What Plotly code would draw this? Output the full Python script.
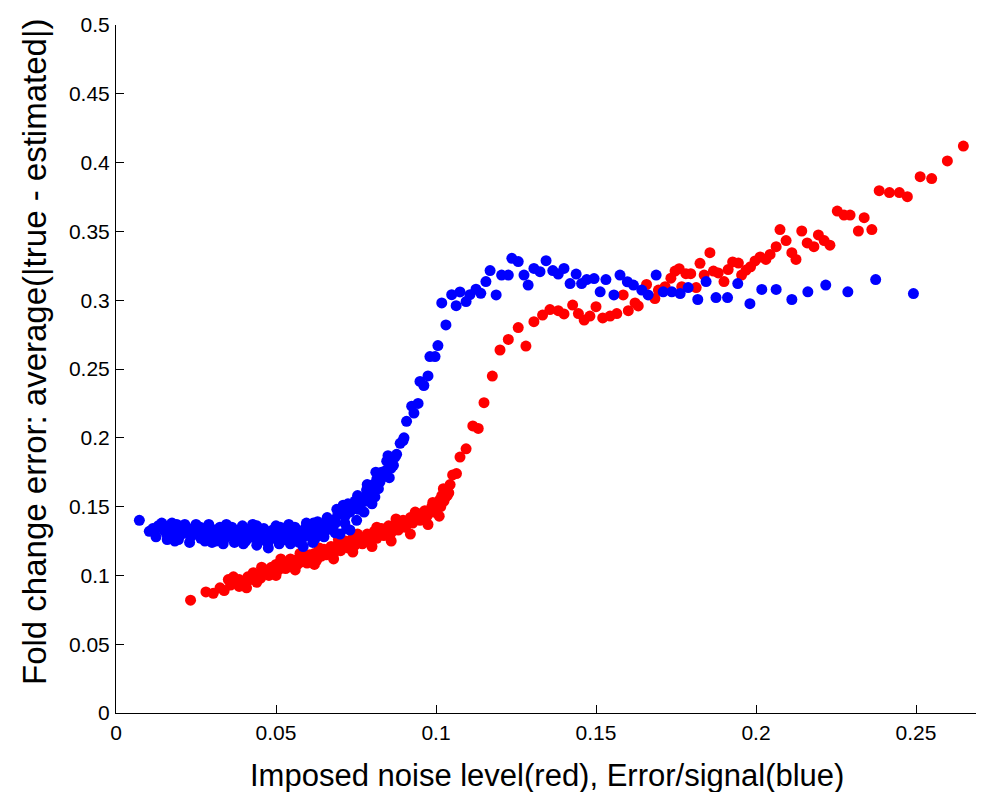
import plotly.graph_objects as go

# ---- data ----
blue_x = [
    0.0073, 0.0104, 0.0115, 0.0122, 0.0132, 0.0143, 0.0150, 0.0158, 0.0165, 0.0172,
    0.0180, 0.0184, 0.0190, 0.0198, 0.0205, 0.0212, 0.0219, 0.0226, 0.0233, 0.0240,
    0.0248, 0.0255, 0.0263, 0.0270, 0.0278, 0.0285, 0.0292, 0.0300, 0.0309, 0.0312,
    0.0318, 0.0325, 0.0332, 0.0340, 0.0347, 0.0355, 0.0362, 0.0370, 0.0378, 0.0385,
    0.0392, 0.0398, 0.0405, 0.0412, 0.0420, 0.0427, 0.0434, 0.0441, 0.0448, 0.0455,
    0.0462, 0.0469, 0.0476, 0.0483, 0.0490, 0.0497, 0.0505, 0.0513, 0.0520, 0.0527,
    0.0534, 0.0541, 0.0548, 0.0555, 0.0559, 0.0566, 0.0572, 0.0578, 0.0585, 0.0590,
    0.0597, 0.0604, 0.0610, 0.0617, 0.0623, 0.0630, 0.0637, 0.0644, 0.0651, 0.0658,
    0.0665, 0.0672, 0.0679, 0.0686, 0.0693, 0.0700, 0.0700, 0.0705, 0.0710, 0.0716,
    0.0721, 0.0731, 0.0731, 0.0737, 0.0747, 0.0752, 0.0758, 0.0763, 0.0770, 0.0775,
    0.0783, 0.0783, 0.0790, 0.0794, 0.0800, 0.0804, 0.0809, 0.0815, 0.0820, 0.0825,
    0.0830, 0.0838, 0.0846, 0.0854, 0.0860, 0.0867, 0.0872, 0.0877, 0.0888, 0.0897,
    0.0900, 0.0908, 0.0924, 0.0931, 0.0944, 0.0950, 0.0962, 0.0975, 0.0981, 0.0997,
    0.1006, 0.1031, 0.1018, 0.1049, 0.1063, 0.1075, 0.1094, 0.1106, 0.1125, 0.1140,
    0.1156, 0.1169, 0.1188, 0.1205, 0.1226, 0.1237, 0.1257, 0.1275, 0.1288, 0.1306,
    0.1325, 0.1344, 0.1365, 0.1382, 0.1400, 0.1419, 0.1438, 0.1455, 0.1471, 0.1494,
    0.1513, 0.1531, 0.1556, 0.1575, 0.1598, 0.1617, 0.1643, 0.1663, 0.1688, 0.1710,
    0.1737, 0.1763, 0.1788, 0.1818, 0.1844, 0.1875, 0.1911, 0.1943, 0.1981, 0.2018,
    0.2063, 0.2112, 0.2162, 0.2218, 0.2287, 0.2374, 0.2492,
    0.0125, 0.0160, 0.0195, 0.0230, 0.0265, 0.0300, 0.0335, 0.0370, 0.0405, 0.0440,
    0.0475, 0.0510, 0.0545, 0.0580, 0.0615, 0.0650, 0.0685, 0.0715,
    0.0175, 0.0215, 0.0250, 0.0290, 0.0345, 0.0395, 0.0440, 0.0500, 0.0540, 0.0595,
    0.0630, 0.0660, 0.0690, 0.0725, 0.0755, 0.0785, 0.0812, 0.0842, 0.0850,
]
blue_y = [
    0.140, 0.132, 0.134, 0.133, 0.136, 0.138, 0.133, 0.130, 0.136, 0.132,
    0.128, 0.125, 0.137, 0.133, 0.130, 0.135, 0.135, 0.131, 0.128, 0.134,
    0.130, 0.133, 0.135, 0.131, 0.125, 0.129, 0.134, 0.131, 0.133, 0.125,
    0.128, 0.135, 0.131, 0.127, 0.133, 0.129, 0.135, 0.131, 0.126, 0.133,
    0.129, 0.123, 0.132, 0.127, 0.134, 0.137, 0.130, 0.126, 0.132, 0.128,
    0.134, 0.125, 0.120, 0.130, 0.133, 0.127, 0.131, 0.135, 0.129, 0.126,
    0.132, 0.128, 0.134, 0.130, 0.135, 0.127, 0.124, 0.131, 0.121, 0.134,
    0.129, 0.136, 0.132, 0.138, 0.127, 0.134, 0.130, 0.137, 0.132, 0.133,
    0.140, 0.136, 0.140, 0.138, 0.144, 0.145, 0.130, 0.148, 0.151, 0.143,
    0.134, 0.146, 0.133, 0.150, 0.154, 0.140, 0.148, 0.150, 0.156, 0.146,
    0.154, 0.162, 0.158, 0.162, 0.152, 0.166, 0.157, 0.170, 0.163, 0.168,
    0.175, 0.172, 0.183, 0.171, 0.178, 0.180, 0.186, 0.188, 0.196, 0.198,
    0.200, 0.212, 0.223, 0.218, 0.225, 0.241, 0.238, 0.245, 0.259, 0.259,
    0.267, 0.282, 0.298, 0.304, 0.296, 0.306, 0.299, 0.304, 0.308, 0.305,
    0.3135, 0.3215, 0.3038, 0.3183, 0.3183, 0.3304, 0.3281, 0.3183, 0.3110, 0.3231,
    0.3207, 0.3287, 0.3215, 0.3190, 0.3231, 0.3121, 0.3190, 0.3121, 0.3150, 0.3157,
    0.3061, 0.3150, 0.3038, 0.3183, 0.3134, 0.3110, 0.3074, 0.3038, 0.3183, 0.3061,
    0.3061, 0.3048, 0.3092, 0.3005, 0.3135, 0.3019, 0.3019, 0.3121, 0.2975, 0.3078,
    0.3078, 0.3005, 0.3061, 0.3110, 0.3061, 0.3150, 0.3048,
    0.128, 0.126, 0.126, 0.124, 0.127, 0.124, 0.123, 0.124, 0.125, 0.122,
    0.124, 0.123, 0.123, 0.126, 0.124, 0.128, 0.131, 0.138,
    0.138, 0.137, 0.137, 0.137, 0.137, 0.136, 0.136, 0.136, 0.137, 0.138,
    0.139, 0.142, 0.148, 0.152, 0.158, 0.166, 0.175, 0.176, 0.187,
]

red_x = [
    0.0233, 0.0281, 0.0304, 0.0325, 0.0338, 0.0351, 0.0358, 0.0367, 0.0375, 0.0385,
    0.0395, 0.0408, 0.0412, 0.0420, 0.0429, 0.0436, 0.0444, 0.0452, 0.0460, 0.0471,
    0.0478, 0.0486, 0.0493, 0.0500, 0.0508, 0.0515, 0.0522, 0.0530, 0.0537, 0.0545,
    0.0552, 0.0560, 0.0567, 0.0575, 0.0582, 0.0590, 0.0597, 0.0605, 0.0612, 0.0620,
    0.0627, 0.0635, 0.0642, 0.0650, 0.0657, 0.0665, 0.0672, 0.0680, 0.0687, 0.0695,
    0.0702, 0.0710, 0.0717, 0.0725, 0.0732, 0.0740, 0.0747, 0.0755, 0.0762, 0.0770,
    0.0777, 0.0785, 0.0792, 0.0800, 0.0807, 0.0815, 0.0822, 0.0830, 0.0837, 0.0845,
    0.0852, 0.0860, 0.0867, 0.0875, 0.0882, 0.0890, 0.0897, 0.0905, 0.0912, 0.0920,
    0.0927, 0.0935, 0.0942, 0.0950, 0.0957, 0.0965, 0.0972, 0.0980, 0.0987, 0.0993,
    0.1000, 0.1006, 0.1012, 0.1015, 0.1018, 0.1023, 0.1025, 0.1030, 0.1035, 0.1044,
    0.1052, 0.1064, 0.1075, 0.1094, 0.1115, 0.1132, 0.1150, 0.1176, 0.1200, 0.1226,
    0.1257, 0.1281, 0.1306, 0.1333, 0.1356, 0.1382, 0.1400, 0.1427, 0.1445, 0.1463,
    0.1481, 0.1500, 0.1521, 0.1544, 0.1565, 0.1585, 0.1601, 0.1622, 0.1632, 0.1658,
    0.1684, 0.1695, 0.1716, 0.1734, 0.1747, 0.1760, 0.1768, 0.1781, 0.1796, 0.1813,
    0.1825, 0.1838, 0.1856, 0.1867, 0.1882, 0.1900, 0.1913, 0.1927, 0.1945, 0.1955,
    0.1969, 0.1983, 0.1997, 0.2013, 0.2031, 0.2044, 0.2063, 0.2075, 0.2094, 0.2112,
    0.2125, 0.2143, 0.2160, 0.2181, 0.2195, 0.2213, 0.2231, 0.2254, 0.2275, 0.2294,
    0.2320, 0.2338, 0.2362, 0.2385, 0.2417, 0.2448, 0.2473, 0.2513, 0.2549, 0.2598,
    0.2648, 0.2708,
    0.0385, 0.0440, 0.0500, 0.0560, 0.0620, 0.0680, 0.0740, 0.0800, 0.0860, 0.0920,
    0.0975, 0.1010,
    0.0455, 0.0515, 0.0575, 0.0635, 0.0695, 0.0755, 0.0815, 0.0875, 0.0935, 0.0990,
    0.1040,
]
red_y = [
    0.082, 0.088, 0.087, 0.091, 0.089, 0.097, 0.093, 0.099, 0.095, 0.097,
    0.094, 0.091, 0.099, 0.097, 0.102, 0.099, 0.101, 0.098, 0.103, 0.104,
    0.100, 0.106, 0.103, 0.108, 0.104, 0.107, 0.110, 0.105, 0.109, 0.112,
    0.107, 0.111, 0.108, 0.113, 0.110, 0.114, 0.109, 0.115, 0.112, 0.116,
    0.111, 0.117, 0.114, 0.119, 0.115, 0.118, 0.121, 0.116, 0.120, 0.123,
    0.118, 0.122, 0.125, 0.120, 0.124, 0.127, 0.122, 0.126, 0.128, 0.123,
    0.127, 0.130, 0.125, 0.129, 0.132, 0.127, 0.131, 0.134, 0.129, 0.133,
    0.136, 0.131, 0.135, 0.138, 0.133, 0.137, 0.140, 0.135, 0.139, 0.142,
    0.138, 0.141, 0.145, 0.140, 0.144, 0.147, 0.143, 0.147, 0.150, 0.146,
    0.152, 0.149, 0.155, 0.150, 0.158, 0.163, 0.154, 0.157, 0.158, 0.166,
    0.173, 0.174, 0.186, 0.192, 0.2086, 0.2068, 0.2255, 0.2449, 0.2638, 0.2715,
    0.2801, 0.2667, 0.2844, 0.2892, 0.2932, 0.2924, 0.2900, 0.2965, 0.2903, 0.2856,
    0.2885, 0.2953, 0.2871, 0.2885, 0.2903, 0.3038, 0.2924, 0.2980, 0.2958, 0.3114,
    0.3012, 0.3074, 0.3098, 0.3160, 0.3212, 0.3229, 0.3098, 0.3193, 0.3193, 0.3092,
    0.3268, 0.3183, 0.3345, 0.3212, 0.3198, 0.3135, 0.3223, 0.3278, 0.3270, 0.3183,
    0.3219, 0.3243, 0.3285, 0.3314, 0.3296, 0.3333, 0.3389, 0.3513, 0.3433, 0.3345,
    0.3296, 0.3503, 0.3416, 0.3389, 0.3474, 0.3433, 0.3400, 0.3648, 0.3619, 0.3619,
    0.3503, 0.3600, 0.3513, 0.3796, 0.3782, 0.3782, 0.3752, 0.3898, 0.3884, 0.4012,
    0.4120, 0.4120,
    0.092, 0.095, 0.100, 0.104, 0.108, 0.112, 0.117, 0.121, 0.125, 0.130,
    0.137, 0.143,
    0.106, 0.112, 0.116, 0.120, 0.126, 0.130, 0.135, 0.141, 0.146, 0.153,
    0.160,
]

x_ticks = [0, 0.05, 0.1, 0.15, 0.2, 0.25]
x_tick_labels = ["0", "0.05", "0.1", "0.15", "0.2", "0.25"]
y_ticks = [0, 0.05, 0.1, 0.15, 0.2, 0.25, 0.3, 0.35, 0.4, 0.45, 0.5]
y_tick_labels = ["0", "0.05", "0.1", "0.15", "0.2", "0.25", "0.3", "0.35", "0.4", "0.45", "0.5"]

x_title = "Imposed noise level(red), Error/signal(blue)"
y_title = "Fold change error: average(|true - estimated|)"

FONT = "Liberation Sans, Arial, Helvetica, sans-serif"

# The page body has an 8px margin, so the figure is placed 8px right/down.
W, H = 976, 784
ML, MT, MB, MR = 108, 17, 79, 0
PW, PH = W - ML - MR, H - MT - MB

fig = go.Figure()
fig.add_trace(go.Scatter(x=red_x, y=red_y, mode="markers", cliponaxis=False,
                         marker=dict(color="#ff0000", size=11, line=dict(width=0)),
                         showlegend=False, hoverinfo="x+y"))
fig.add_trace(go.Scatter(x=blue_x, y=blue_y, mode="markers",
                         marker=dict(color="#0000ff", size=11, line=dict(width=0)),
                         showlegend=False, hoverinfo="x+y"))

axis_common = dict(showline=True, linecolor="black", linewidth=1, mirror=False,
                   ticks="inside", ticklen=8, tickwidth=1, tickcolor="black",
                   showgrid=False, zeroline=False,
                   tickfont=dict(family=FONT, size=21, color="black"))

fig.update_xaxes(range=[0, 0.27125], tickvals=x_ticks, ticktext=x_tick_labels,
                 ticklabelstandoff=1, **axis_common)
fig.update_yaxes(range=[0, 0.5], tickvals=y_ticks, ticktext=y_tick_labels,
                 ticklabelstandoff=1, **axis_common)

# title positions in page pixels from the reference
xt_px, xt_py = 547, 775
yt_px, yt_py = 35, 352
fig.add_annotation(text=x_title, xref="paper", yref="paper",
                   x=(xt_px - 8 - ML) / PW, y=(H - MB - (xt_py - 8)) / PH,
                   showarrow=False, xanchor="center", yanchor="middle",
                   font=dict(family=FONT, size=31, color="black"))
fig.add_annotation(text=y_title, xref="paper", yref="paper",
                   x=(yt_px - 8 - ML) / PW, y=(H - MB - (yt_py - 8)) / PH,
                   showarrow=False, xanchor="center", yanchor="middle", textangle=-90,
                   font=dict(family=FONT, size=33, color="black"))

fig.update_layout(width=W, height=H, margin=dict(l=ML, r=MR, t=MT, b=MB, autoexpand=False),
                  paper_bgcolor="white", plot_bgcolor="white")

fig.write_html("out.html")
